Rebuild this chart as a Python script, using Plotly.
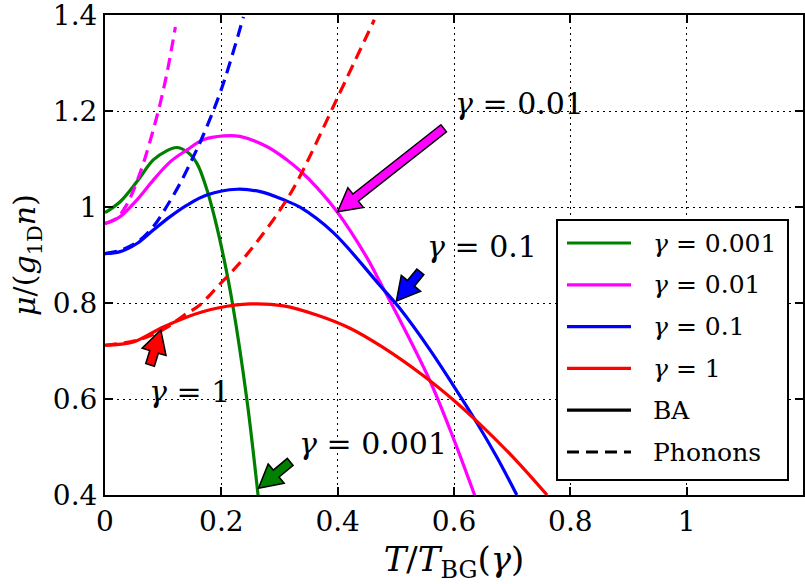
import plotly.graph_objects as go

# ---------------- data ----------------
T_ba_g0001 = [0.0, 0.026, 0.055, 0.083, 0.106, 0.123, 0.141, 0.158, 0.175, 0.189, 0.204, 0.219, 0.244, 0.264]
mu_ba_g0001 = [0.988, 1.011, 1.053, 1.098, 1.117, 1.124, 1.115, 1.091, 1.037, 0.975, 0.895, 0.800, 0.598, 0.39]

T_ba_g001 = [0.0, 0.026, 0.055, 0.083, 0.112, 0.141, 0.169, 0.204, 0.232, 0.278, 0.313, 0.336, 0.364, 0.399, 0.450, 0.473, 0.508, 0.559, 0.599, 0.636]
mu_ba_g001 = [0.965, 0.980, 1.015, 1.056, 1.094, 1.119, 1.140, 1.148, 1.147, 1.126, 1.098, 1.075, 1.041, 0.990, 0.895, 0.843, 0.762, 0.637, 0.518, 0.398]

T_ba_g01 = [0.0, 0.026, 0.055, 0.083, 0.112, 0.141, 0.175, 0.227, 0.267, 0.307, 0.336, 0.393, 0.473, 0.508, 0.559, 0.599, 0.640, 0.674, 0.708]
mu_ba_g01 = [0.903, 0.907, 0.924, 0.952, 0.980, 1.004, 1.025, 1.037, 1.032, 1.015, 0.999, 0.946, 0.836, 0.787, 0.702, 0.628, 0.549, 0.478, 0.400]

T_ba_g1 = [0.0, 0.049, 0.095, 0.141, 0.192, 0.250, 0.307, 0.364, 0.422, 0.476, 0.548, 0.599, 0.640, 0.703, 0.760]
mu_ba_g1 = [0.712, 0.719, 0.747, 0.771, 0.789, 0.798, 0.794, 0.775, 0.747, 0.709, 0.648, 0.598, 0.553, 0.477, 0.400]

T_ph_g001 = [0.0, 0.020, 0.037, 0.060, 0.086, 0.105, 0.121]
mu_ph_g001 = [0.966, 0.977, 1.004, 1.070, 1.174, 1.270, 1.375]

T_ph_g01 = [0.0, 0.030, 0.060, 0.083, 0.106, 0.129, 0.152, 0.169, 0.200, 0.238]
mu_ph_g01 = [0.903, 0.911, 0.931, 0.959, 1.001, 1.049, 1.105, 1.150, 1.245, 1.396]

T_ph_g1 = [0.0, 0.060, 0.105, 0.134, 0.163, 0.198, 0.227, 0.261, 0.301, 0.330, 0.399, 0.463]
mu_ph_g1 = [0.712, 0.724, 0.748, 0.773, 0.796, 0.840, 0.877, 0.927, 0.994, 1.052, 1.226, 1.390]

legend_labels = ["<i>γ</i> = 0.001", "<i>γ</i> = 0.01", "<i>γ</i> = 0.1", "<i>γ</i> = 1", "BA", "Phonons"]
legend_colors = ["#008000", "#ff00ff", "#0000ff", "#ff0000", "black", "black"]
legend_dashes = ["solid", "solid", "solid", "solid", "solid", "12px,7px"]
colors = legend_colors[:4]

x_ticks = [0, 0.2, 0.4, 0.6, 0.8, 1.0]
x_ticktext = ["0", "0.2", "0.4", "0.6", "0.8", "1"]
y_ticks = [0.4, 0.6, 0.8, 1.0, 1.2, 1.4]
y_ticktext = ["0.4", "0.6", "0.8", "1", "1.2", "1.4"]

# arrow annotations: (label, colour, text pos, tip, tail)
arrows = [
    ("<i>γ</i> = 0.01", "#ff00ff", (0.598, 1.215), (0.3998, 0.990), (0.5823, 1.164)),
    ("<i>γ</i> = 0.1", "#0000ff", (0.550, 0.917), (0.5009, 0.804), (0.5422, 0.865)),
    ("<i>γ</i> = 1", "#ff0000", (0.072, 0.615), (0.0959, 0.744), (0.0775, 0.671)),
    ("<i>γ</i> = 0.001", "#008000", (0.330, 0.508), (0.2639, 0.414), (0.3184, 0.469)),
]

# ---------------- layout geometry ----------------
W, H = 805, 584
ML, MR, MT, MB = 105, 2, 15, 89
XR = [0.0, 1.2]
YR = [0.4, 1.4]
PW, PH = W - ML - MR, H - MT - MB
FONT = "DejaVu Serif"


def to_px(x, y):
    return ((x - XR[0]) / (XR[1] - XR[0]) * PW, (YR[1] - y) / (YR[1] - YR[0]) * PH)


def to_data(px, py):
    return (XR[0] + px / PW * (XR[1] - XR[0]), YR[1] - py / PH * (YR[1] - YR[0]))


def arrow_path(tip, tail, shaft=9.0, head_w=25.0, head_l=23.0):
    tx, ty = to_px(*tip)
    sx, sy = to_px(*tail)
    dx, dy = tx - sx, ty - sy
    L = (dx * dx + dy * dy) ** 0.5
    ux, uy = dx / L, dy / L
    nx, ny = -uy, ux
    bx, by = tx - ux * head_l, ty - uy * head_l
    pts = [
        (sx + nx * shaft / 2, sy + ny * shaft / 2),
        (bx + nx * shaft / 2, by + ny * shaft / 2),
        (bx + nx * head_w / 2, by + ny * head_w / 2),
        (tx, ty),
        (bx - nx * head_w / 2, by - ny * head_w / 2),
        (bx - nx * shaft / 2, by - ny * shaft / 2),
        (sx - nx * shaft / 2, sy - ny * shaft / 2),
    ]
    d = [to_data(*p) for p in pts]
    return "M " + " L ".join(f"{x:.5f},{y:.5f}" for x, y in d) + " Z"


def px_to_paper(px, py):
    return ((px - ML) / PW, (H - MB - py) / PH)


fig = go.Figure()

ba_sets = [(T_ba_g0001, mu_ba_g0001), (T_ba_g001, mu_ba_g001), (T_ba_g01, mu_ba_g01), (T_ba_g1, mu_ba_g1)]
for (t, m), lab, c in zip(ba_sets, legend_labels, colors):
    fig.add_trace(go.Scatter(x=t, y=m, mode="lines", name=lab, showlegend=False,
                             line=dict(color=c, width=3.2, shape="spline", smoothing=1.0)))

ph_sets = [(T_ph_g001, mu_ph_g001, colors[1]), (T_ph_g01, mu_ph_g01, colors[2]), (T_ph_g1, mu_ph_g1, colors[3])]
for t, m, c in ph_sets:
    fig.add_trace(go.Scatter(x=t, y=m, mode="lines", showlegend=False,
                             line=dict(color=c, width=3.2, dash="12px,7px", shape="spline", smoothing=1.0)))

for lab, c, tpos, tip, tail in arrows:
    fig.add_shape(type="path", path=arrow_path(tip, tail), xref="x", yref="y",
                  fillcolor=c, line=dict(color="black", width=1.5), layer="above")
    fig.add_annotation(x=tpos[0], y=tpos[1], text=lab, showarrow=False, xanchor="left",
                       yanchor="middle", font=dict(family=FONT, size=30, color="black"))

# ---- legend box (drawn in paper coordinates) ----
bx0, by0 = px_to_paper(557, 480)
bx1, by1 = px_to_paper(788, 220)
fig.add_shape(type="rect", xref="paper", yref="paper", x0=bx0, y0=by0, x1=bx1, y1=by1,
              fillcolor="white", line=dict(color="black", width=2), layer="above")
for i, (lab, c, d) in enumerate(zip(legend_labels, legend_colors, legend_dashes)):
    row_y = 243 + i * 41.8
    lx0, ly = px_to_paper(567, row_y)
    lx1, _ = px_to_paper(631, row_y)
    fig.add_shape(type="line", xref="paper", yref="paper", x0=lx0, x1=lx1, y0=ly, y1=ly,
                  line=dict(color=c, width=3.2, dash=d), layer="above")
    tx, _ = px_to_paper(651, row_y)
    fig.add_annotation(x=tx, y=ly, xref="paper", yref="paper", text=lab, showarrow=False,
                       xanchor="left", yanchor="middle",
                       font=dict(family=FONT, size=25, color="black"))

axis_common = dict(showline=True, linewidth=2, linecolor="black", mirror="ticks",
                   ticks="inside", ticklen=8, tickwidth=1.5, tickcolor="black",
                   showgrid=True, gridcolor="black", gridwidth=1, griddash="2px,4px",
                   zeroline=False, automargin=False, ticklabeloverflow="allow",
                   tickfont=dict(family=FONT, size=28, color="black"))

fig.update_xaxes(range=[XR[0], XR[1]], tickmode="array", tickvals=x_ticks, ticktext=x_ticktext,
                 title=dict(text="<i>T</i>/<i>T</i><sub>BG</sub>(<i>γ</i>)",
                            font=dict(family=FONT, size=34, color="black"), standoff=11),
                 **axis_common)
fig.update_yaxes(range=[YR[0], YR[1]], tickmode="array", tickvals=y_ticks, ticktext=y_ticktext,
                 title=dict(text="<i>μ</i>/(<i>g</i><sub>1D</sub><i>n</i>)",
                            font=dict(family=FONT, size=30, color="black"), standoff=8),
                 **axis_common)

fig.update_layout(
    width=W, height=H, autosize=False,
    margin=dict(l=ML, r=MR, t=MT, b=MB),
    paper_bgcolor="white", plot_bgcolor="white",
    showlegend=False,
)

fig.write_html("out.html")
